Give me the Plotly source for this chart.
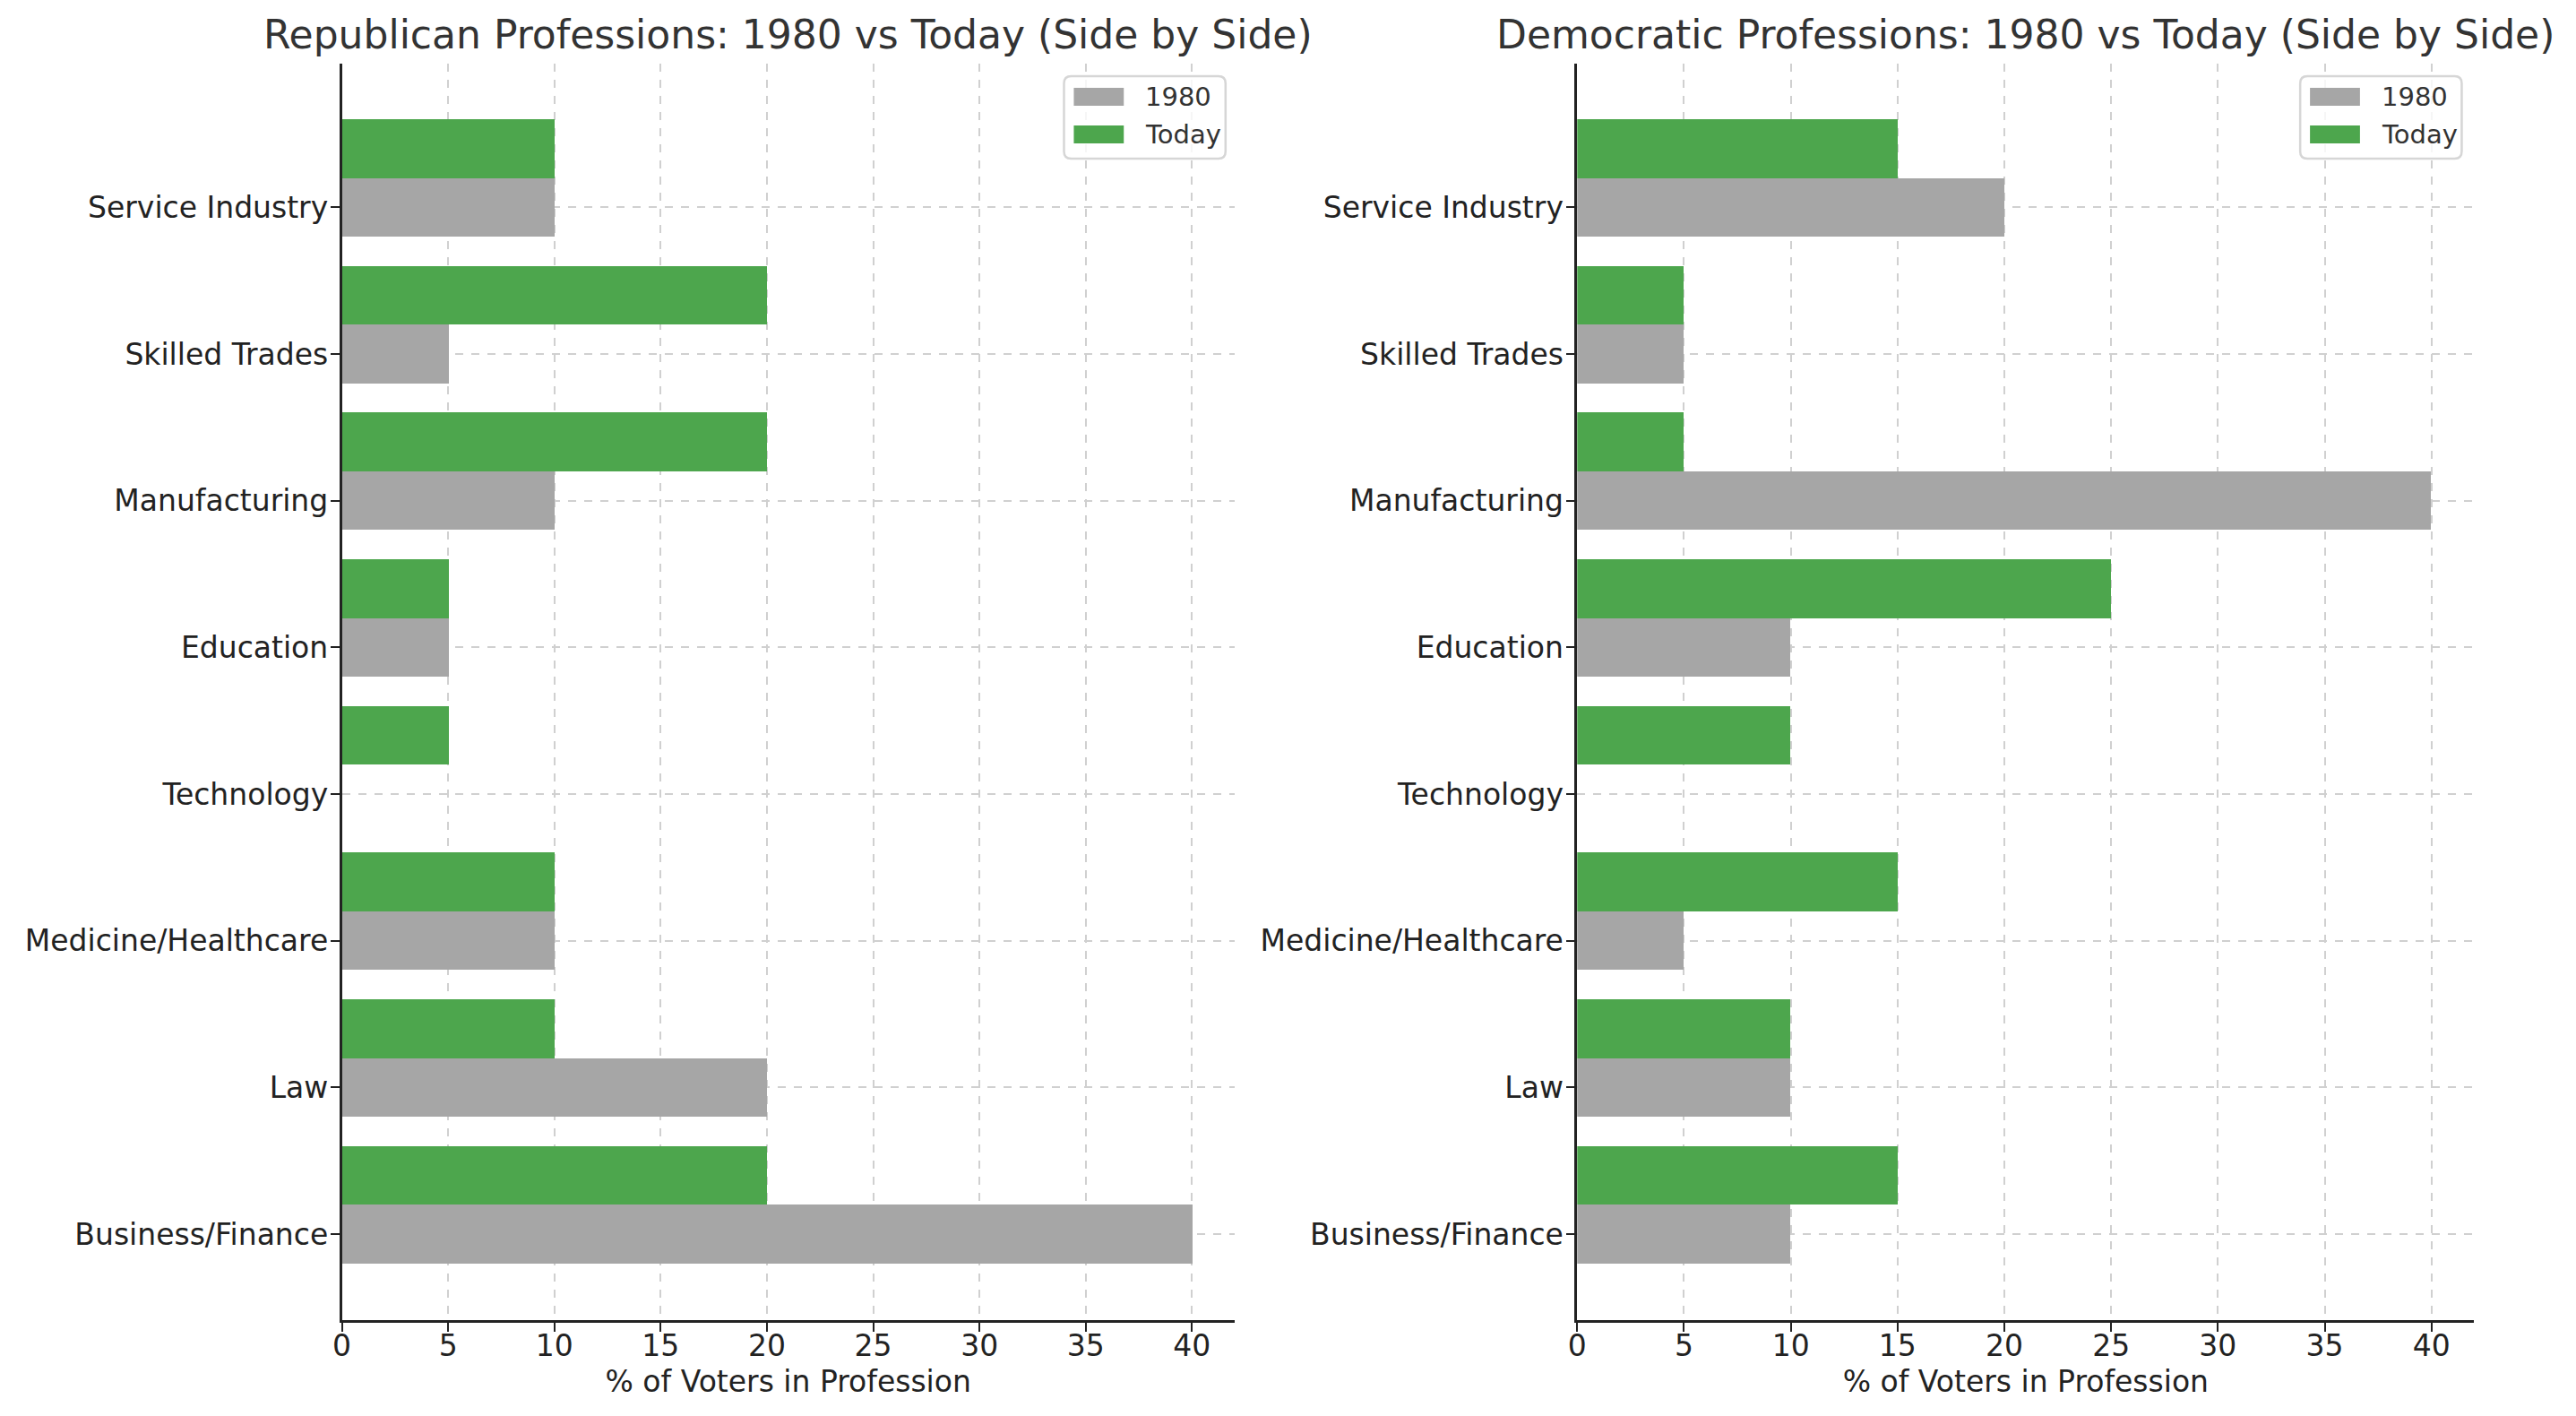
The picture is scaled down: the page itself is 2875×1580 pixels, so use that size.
import numpy as np
import plotly.graph_objects as go

categories = ["Business/Finance", "Law", "Medicine/Healthcare", "Technology",
              "Education", "Manufacturing", "Skilled Trades", "Service Industry"]
rep_1980 = [40, 20, 10, 0, 5, 10, 5, 10]
rep_today = [20, 10, 10, 5, 5, 20, 20, 10]
dem_1980 = [10, 10, 5, 0, 10, 40, 5, 20]
dem_today = [15, 10, 15, 10, 25, 5, 5, 15]
x_ticks = [0, 5, 10, 15, 20, 25, 30, 35, 40]
series_names = ["1980", "Today"]

# page is 2875x1580; the html body has an 8px margin
PAGE_W, PAGE_H, BODY = 2875, 1580, 8
W, H = PAGE_W - 2 * BODY, PAGE_H - 2 * BODY


def px(x):
    return (x - BODY) / W


def py(y):
    return 1 - (y - BODY) / H


GRAY = "#a6a6a6"
GREEN = "#4da64d"
COLORS = [GRAY, GREEN]
BAR_H = 0.4
pos = np.arange(len(categories))

fig = go.Figure()
panels = [("x", "y", rep_1980, rep_today), ("x2", "y2", dem_1980, dem_today)]
for xa, ya, v80, vtd in panels:
    fig.add_trace(go.Bar(x=v80, y=pos, orientation="h", width=BAR_H, name=series_names[0],
                         marker=dict(color=GRAY, line=dict(width=0)),
                         xaxis=xa, yaxis=ya, showlegend=False))
    fig.add_trace(go.Bar(x=vtd, y=pos + BAR_H, orientation="h", width=BAR_H, name=series_names[1],
                         marker=dict(color=GREEN, line=dict(width=0)),
                         xaxis=xa, yaxis=ya, showlegend=False))

FONT = "DejaVu Sans"
axis_common = dict(showline=True, linecolor="#222222", linewidth=2.5,
                   ticks="outside", ticklen=10, tickwidth=2, tickcolor="#222222",
                   showgrid=True, gridcolor="#d0d0d0", gridwidth=1.5, griddash="dash",
                   zeroline=False, tickfont=dict(family=FONT, size=33, color="#222222"))
xcommon = dict(axis_common, range=[0, 42], tickvals=x_ticks, ticklabelstandoff=-12,
               title=dict(text="% of Voters in Profession",
                          font=dict(family=FONT, size=33, color="#222222"), standoff=10))
ycommon = dict(axis_common, range=[-0.587, 7.98], tickvals=list(pos), ticktext=categories,
               ticklabelstandoff=-4)

# hand-drawn legends (matplotlib style: wide rectangle swatches, rounded frame)
shapes, annotations = [], []
for box_left, box_right in ((1181, 1362), (2566, 2747)):
    top, bot, r = 85, 177, 8
    x0, x1, y0, y1 = px(box_left), px(box_right), py(top), py(bot)
    rx, ry = r / W, r / H
    path = (f"M {x0+rx},{y0} L {x1-rx},{y0} Q {x1},{y0} {x1},{y0-ry} "
            f"L {x1},{y1+ry} Q {x1},{y1} {x1-rx},{y1} L {x0+rx},{y1} "
            f"Q {x0},{y1} {x0},{y1+ry} L {x0},{y0-ry} Q {x0},{y0} {x0+rx},{y0} Z")
    shapes.append(dict(type="path", path=path, xref="paper", yref="paper",
                       line=dict(color="#d6d6d6", width=2.5), fillcolor="rgba(255,255,255,0.8)",
                       layer="above"))
    for i, (nm, col) in enumerate(zip(series_names, COLORS)):
        cy = 108 + 42 * i
        shapes.append(dict(type="rect", xref="paper", yref="paper",
                           x0=px(box_left + 11), x1=px(box_left + 67),
                           y0=py(cy - 10), y1=py(cy + 10),
                           fillcolor=col, line=dict(width=0), layer="above"))
        annotations.append(dict(text=nm, x=px(box_left + 89), y=py(cy), xref="paper", yref="paper",
                                xanchor="left", yanchor="middle", showarrow=False,
                                font=dict(family=FONT, size=29, color="#333333")))

titles = ["Republican Professions: 1980 vs Today (Side by Side)",
          "Democratic Professions: 1980 vs Today (Side by Side)"]
for t, (a, b) in zip(titles, ((372, 1372), (1756, 2761))):
    annotations.append(dict(text=t, x=px((a + b) / 2), y=py(38), xref="paper", yref="paper",
                            xanchor="center", yanchor="middle", showarrow=False,
                            font=dict(family=FONT, size=44, color="#333333")))

fig.update_layout(
    width=W, height=H,
    margin=dict(l=0, r=0, t=0, b=0),
    paper_bgcolor="white", plot_bgcolor="white",
    barmode="overlay", bargap=0, showlegend=False,
    font=dict(family=FONT, color="#222222"),
    xaxis=dict(xcommon, domain=[px(372), px(1372)], anchor="y"),
    yaxis=dict(ycommon, domain=[py(1473), py(71)], anchor="x"),
    xaxis2=dict(xcommon, domain=[px(1756), px(2761)], anchor="y2"),
    yaxis2=dict(ycommon, domain=[py(1473), py(71)], anchor="x2"),
    shapes=shapes,
    annotations=annotations,
)

fig.write_html("out.html")
